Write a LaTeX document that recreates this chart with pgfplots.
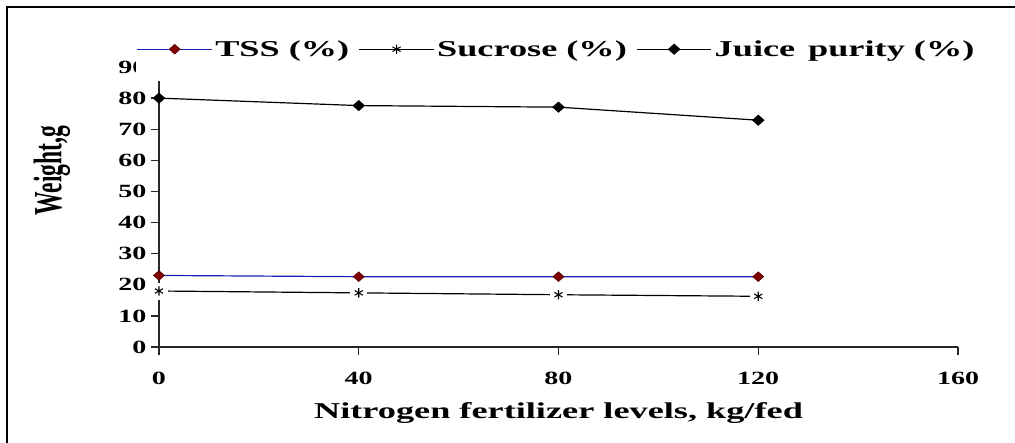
\documentclass[border=0pt]{standalone}
\usepackage{fontspec}
\setmainfont{Liberation Serif}[FakeStretch=1.5]
\newfontfamily\legfont{Liberation Serif}[FakeStretch=1.6]
\newfontfamily\ylabfont{Liberation Serif}[FakeStretch=0.59]
\usepackage{pgfplots}
\pgfplotsset{compat=1.18}
\definecolor{tssblue}{RGB}{30,30,180}
\definecolor{tssred}{RGB}{128,0,0}
\begin{document}
\begin{tikzpicture}
\begin{axis}[
  at={(0,0)}, anchor=south west,
  scale only axis, width=599.25pt, height=210pt,
  xmin=0, xmax=160, ymin=0, ymax=90,
  axis lines=left, axis line style={-, line width=1pt, black!85},
  xtick={0,40,80,120,160}, ytick={0,10,...,90},
  tick align=outside, major tick length=6pt,
  tick style={line width=1pt, black!85},
  /pgf/number format/assume math mode=true,
  ticklabel style={font=\fontsize{14}{16}\selectfont\bfseries},
  xticklabel style={yshift=-9pt},
  xlabel={Nitrogen fertilizer levels, kg/fed},
  xlabel style={font=\legfont\fontsize{17}{19}\selectfont\bfseries, at={(axis description cs:0.5,-0.236)}, anchor=center},
  ylabel={Weight,g},
  ylabel style={font=\ylabfont\fontsize{30}{32}\selectfont\bfseries, at={(axis description cs:-0.134,0.63)}, anchor=center},
  legend columns=3,
  legend style={draw=none, fill=white, at={(-0.029,0.95)}, anchor=south west,
    inner xsep=0.5pt, inner ysep=15pt,
    font=\legfont\fontsize{17}{19}\selectfont\bfseries,
    /tikz/every even column/.append style={column sep=5pt}},
  legend image code/.code={\draw[mark repeat=2,mark phase=2,#1] plot coordinates {(0pt,0pt) (28pt,0pt) (56pt,0pt)};},
]
\addplot[tssblue, line width=0.9pt, mark=diamond*, mark size=3.6pt, mark options={xscale=1.5, fill=tssred, draw=tssred!70!black, line width=0.5pt}]
  coordinates {(0,23.0) (40,22.6) (80,22.6) (120,22.6)};
\addlegendentry{TSS (\%)}
\addplot[black, line width=0.9pt, mark=asterisk, mark size=3.5pt, mark options={line width=0.8pt}]
  coordinates {(0,18.0) (40,17.4) (80,16.8) (120,16.3)};
\addlegendentry{Sucrose (\%)}
\addplot[black, line width=0.9pt, mark=diamond*, mark size=3.6pt, mark options={xscale=1.5}]
  coordinates {(0,80.0) (40,77.6) (80,77.1) (120,72.9)};
\addlegendentry{Juice\, purity (\%)}
\addplot[only marks, forget plot, mark=square*, mark size=6pt, mark options={white, draw=white}]
  coordinates {(0,18.0) (40,17.4) (80,16.8) (120,16.3)};
\addplot[only marks, forget plot, black, mark=asterisk, mark size=3.5pt, mark options={line width=0.8pt}]
  coordinates {(0,18.0) (40,17.4) (80,16.8) (120,16.3)};
\end{axis}
\draw[line width=1.6pt, black] (-114pt,-72pt) |- (642pt,255pt);
\pgfresetboundingbox
\path[use as bounding box] (-119.25pt,-72pt) rectangle (642pt,260.25pt);
\end{tikzpicture}
\end{document}
